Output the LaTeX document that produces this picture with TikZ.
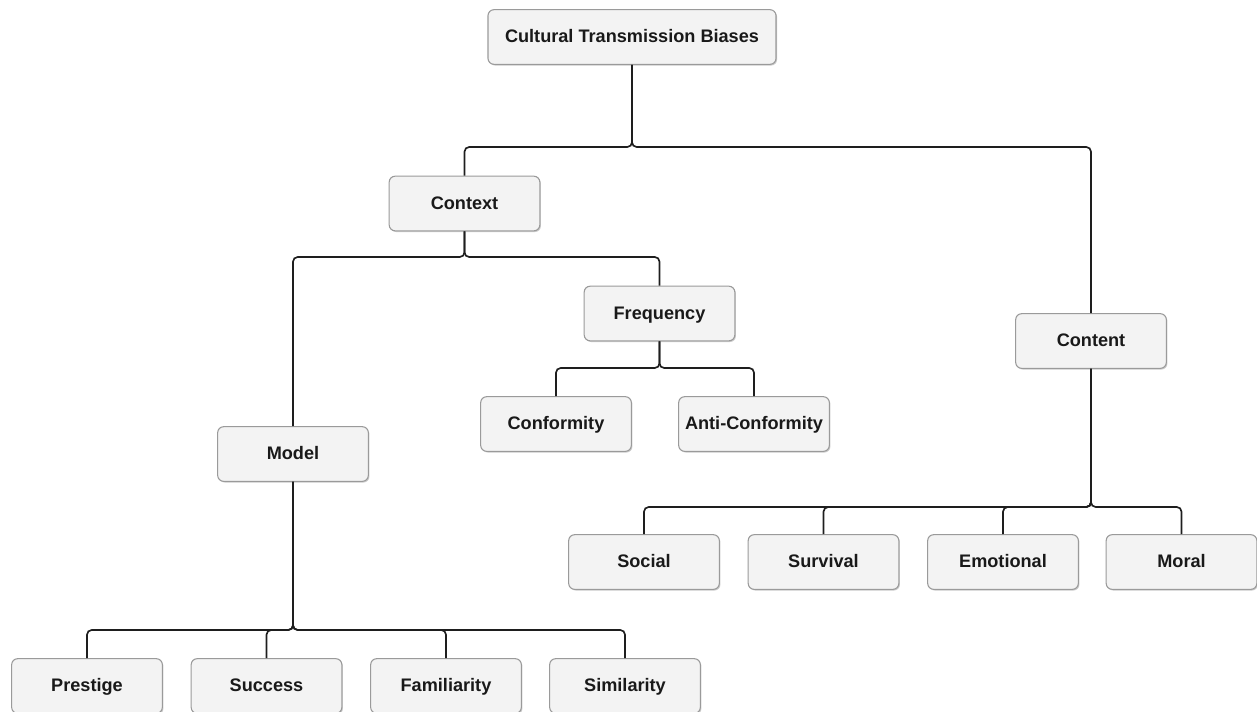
\documentclass[tikz,border=0pt]{standalone}
\usepackage{fontspec}
\setmainfont{Liberation Sans}
\usetikzlibrary{shadows}
\definecolor{boxfill}{HTML}{F3F3F3}
\definecolor{boxline}{HTML}{9A9A9A}
\definecolor{linkcol}{HTML}{1E1E1E}
\begin{document}
\begin{tikzpicture}[x=0.75pt,y=-0.75pt,
  biasbox/.style={draw=boxline, line width=0.8pt, fill=boxfill, rounded corners=4.5pt,
    minimum width=113pt, minimum height=41pt, inner sep=0pt,
    text height=0.86em, text depth=0em,
    font=\fontsize{13.6}{15}\selectfont\bfseries, text=black!90,
    drop shadow={shadow xshift=0.8pt, shadow yshift=-0.9pt, fill=black!35, opacity=0.6}},
  link/.style={draw=linkcol, line width=1.25pt, rounded corners=3.5pt}]
\useasboundingbox (0,0) rectangle (1257,711);

% tree of biases
\node[biasbox, minimum width=216pt] (root) at (632,37) {Cultural Transmission Biases};
\node[biasbox] (context) at (464.5,203.5) {Context};
\node[biasbox] (content) at (1091,341) {Content};
\node[biasbox] (frequency) at (659.5,313.5) {Frequency};
\node[biasbox] (model) at (293,454) {Model};
\node[biasbox] (conformity) at (556,424) {Conformity};
\node[biasbox] (anticonf) at (754,424) {Anti-Conformity};
\node[biasbox] (social) at (644,562) {Social};
\node[biasbox] (survival) at (823.5,562) {Survival};
\node[biasbox] (emotional) at (1003,562) {Emotional};
\node[biasbox] (moral) at (1181.5,562) {Moral};
\node[biasbox] (prestige) at (87,686) {Prestige};
\node[biasbox] (success) at (266.5,686) {Success};
\node[biasbox] (familiarity) at (446,686) {Familiarity};
\node[biasbox] (similarity) at (625,686) {Similarity};

% branching points below each parent
\coordinate (jroot) at (632,147);
\coordinate (jcontext) at (464.5,257);
\coordinate (jfreq) at (659.5,368);
\coordinate (jcontent) at (1091,507);
\coordinate (jmodel) at (293,630);

\begin{scope}[on background layer/.try]
\draw[link] (root.south) -- (jroot) -| (context.north);
\draw[link] (root.south) -- (jroot) -| (content.north);
\draw[link] (context.south) -- (jcontext) -| (model.north);
\draw[link] (context.south) -- (jcontext) -| (frequency.north);
\draw[link] (frequency.south) -- (jfreq) -| (conformity.north);
\draw[link] (frequency.south) -- (jfreq) -| (anticonf.north);
\draw[link] (content.south) -- (jcontent) -| (social.north);
\draw[link] (content.south) -- (jcontent) -| (survival.north);
\draw[link] (content.south) -- (jcontent) -| (emotional.north);
\draw[link] (content.south) -- (jcontent) -| (moral.north);
\draw[link] (model.south) -- (jmodel) -| (prestige.north);
\draw[link] (model.south) -- (jmodel) -| (success.north);
\draw[link] (model.south) -- (jmodel) -| (familiarity.north);
\draw[link] (model.south) -- (jmodel) -| (similarity.north);
\end{scope}
\end{tikzpicture}
\end{document}
